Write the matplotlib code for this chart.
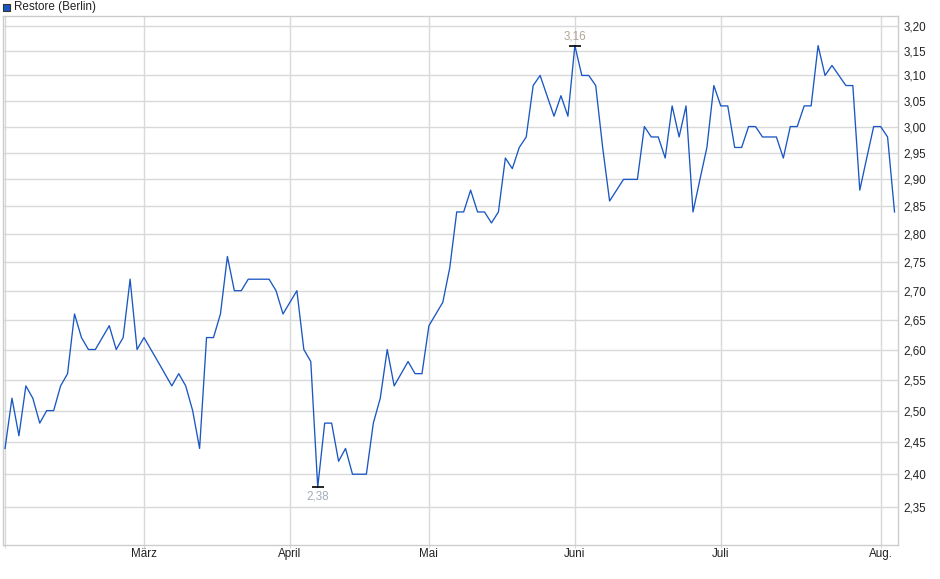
import matplotlib
matplotlib.use("Agg")
import matplotlib.pyplot as plt
from matplotlib.ticker import FixedLocator, NullLocator, FixedFormatter
import numpy as np

# ---- data ----
prices = [
    2.44, 2.52, 2.46, 2.54, 2.52, 2.48, 2.50, 2.50, 2.54, 2.56,
    2.66, 2.62, 2.60, 2.60, 2.62, 2.64, 2.60, 2.62, 2.72, 2.60,
    2.62, 2.60, 2.58, 2.56, 2.54, 2.56, 2.54, 2.50, 2.44, 2.62,
    2.62, 2.66, 2.76, 2.70, 2.70, 2.72, 2.72, 2.72, 2.72, 2.70,
    2.66, 2.68, 2.70, 2.60, 2.58, 2.38, 2.48, 2.48, 2.42, 2.44,
    2.40, 2.40, 2.40, 2.48, 2.52, 2.60, 2.54, 2.56, 2.58, 2.56,
    2.56, 2.64, 2.66, 2.68, 2.74, 2.84, 2.84, 2.88, 2.84, 2.84,
    2.82, 2.84, 2.94, 2.92, 2.96, 2.98, 3.08, 3.10, 3.06, 3.02,
    3.06, 3.02, 3.16, 3.10, 3.10, 3.08, 2.96, 2.86, 2.88, 2.90,
    2.90, 2.90, 3.00, 2.98, 2.98, 2.94, 3.04, 2.98, 3.04, 2.84,
    2.90, 2.96, 3.08, 3.04, 3.04, 2.96, 2.96, 3.00, 3.00, 2.98,
    2.98, 2.98, 2.94, 3.00, 3.00, 3.04, 3.04, 3.16, 3.10, 3.12,
    3.10, 3.08, 3.08, 2.88, 2.94, 3.00, 3.00, 2.98, 2.84,
]
month_labels = ["", "März", "April", "Mai", "Juni", "Juli", "Aug."]
month_index = [0, 20, 41, 61, 82, 103, 126]
y_ticks = [2.35, 2.40, 2.45, 2.50, 2.55, 2.60, 2.65, 2.70, 2.75, 2.80,
           2.85, 2.90, 2.95, 3.00, 3.05, 3.10, 3.15, 3.20]
series_name = "Restore (Berlin)"

plt.rcParams['font.family'] = ['Liberation Sans', 'DejaVu Sans']

fig = plt.figure(figsize=(9.4, 5.79), dpi=100)
ax = fig.add_axes([3/940, 1 - 545/579, (898 - 3)/940, (545 - 16)/579])

x = np.arange(len(prices))
line_color = '#1a57c2'
grid_color = '#d9d9d9'

ax.plot(x, prices, color=line_color, lw=0.95, zorder=3)

ax.set_yscale('log')
ax.set_ylim(2.2934, 3.2206)
ax.set_xlim(-0.29, 128.5)

ax.yaxis.set_major_locator(FixedLocator(y_ticks))
ax.yaxis.set_minor_locator(NullLocator())
ax.yaxis.set_major_formatter(FixedFormatter([f"{v:.2f}".replace('.', ',') for v in y_ticks]))
ax.yaxis.tick_right()
ax.tick_params(axis='y', which='both', length=0, pad=4, labelsize=8.4, labelcolor='#222222')

ax.xaxis.set_major_locator(FixedLocator(month_index))
ax.xaxis.set_minor_locator(NullLocator())
ax.xaxis.set_major_formatter(FixedFormatter(month_labels))
ax.tick_params(axis='x', which='both', length=2, color=grid_color, pad=0,
               labelsize=8.4, labelcolor='#222222')

ax.grid(True, color=grid_color, lw=1.0, zorder=0)
for s in ax.spines.values():
    s.set_color('#cccccc')
    s.set_linewidth(1.0)

# min / max markers
imax = int(np.argmax(prices))
imin = int(np.argmin(prices))
ax.plot([imax], [prices[imax]], marker='_', ms=9, mew=1.2, color='black', zorder=4)
ax.plot([imin], [prices[imin]], marker='_', ms=9, mew=1.2, color='black', zorder=4)
ax.annotate(f"{prices[imax]:.2f}".replace('.', ','), (imax, prices[imax]),
            xytext=(0, 2), textcoords='offset points', ha='center', va='bottom',
            fontsize=8.4, color='#b0a494')
ax.annotate(f"{prices[imin]:.2f}".replace('.', ','), (imin, prices[imin]),
            xytext=(0, -2), textcoords='offset points', ha='center', va='top',
            fontsize=8.4, color='#a4acb8')

# legend-like header
fig.patches.append(plt.Rectangle((3/940, 1 - 11/579), 7/940, 7/579,
                                 transform=fig.transFigure, facecolor=line_color,
                                 edgecolor='#333333', lw=0.8))
fig.text(14/940, 1 - 7/579, series_name, fontsize=8.4, va='center', ha='left',
         color='#222222')

fig.savefig("out.png", dpi=100)
